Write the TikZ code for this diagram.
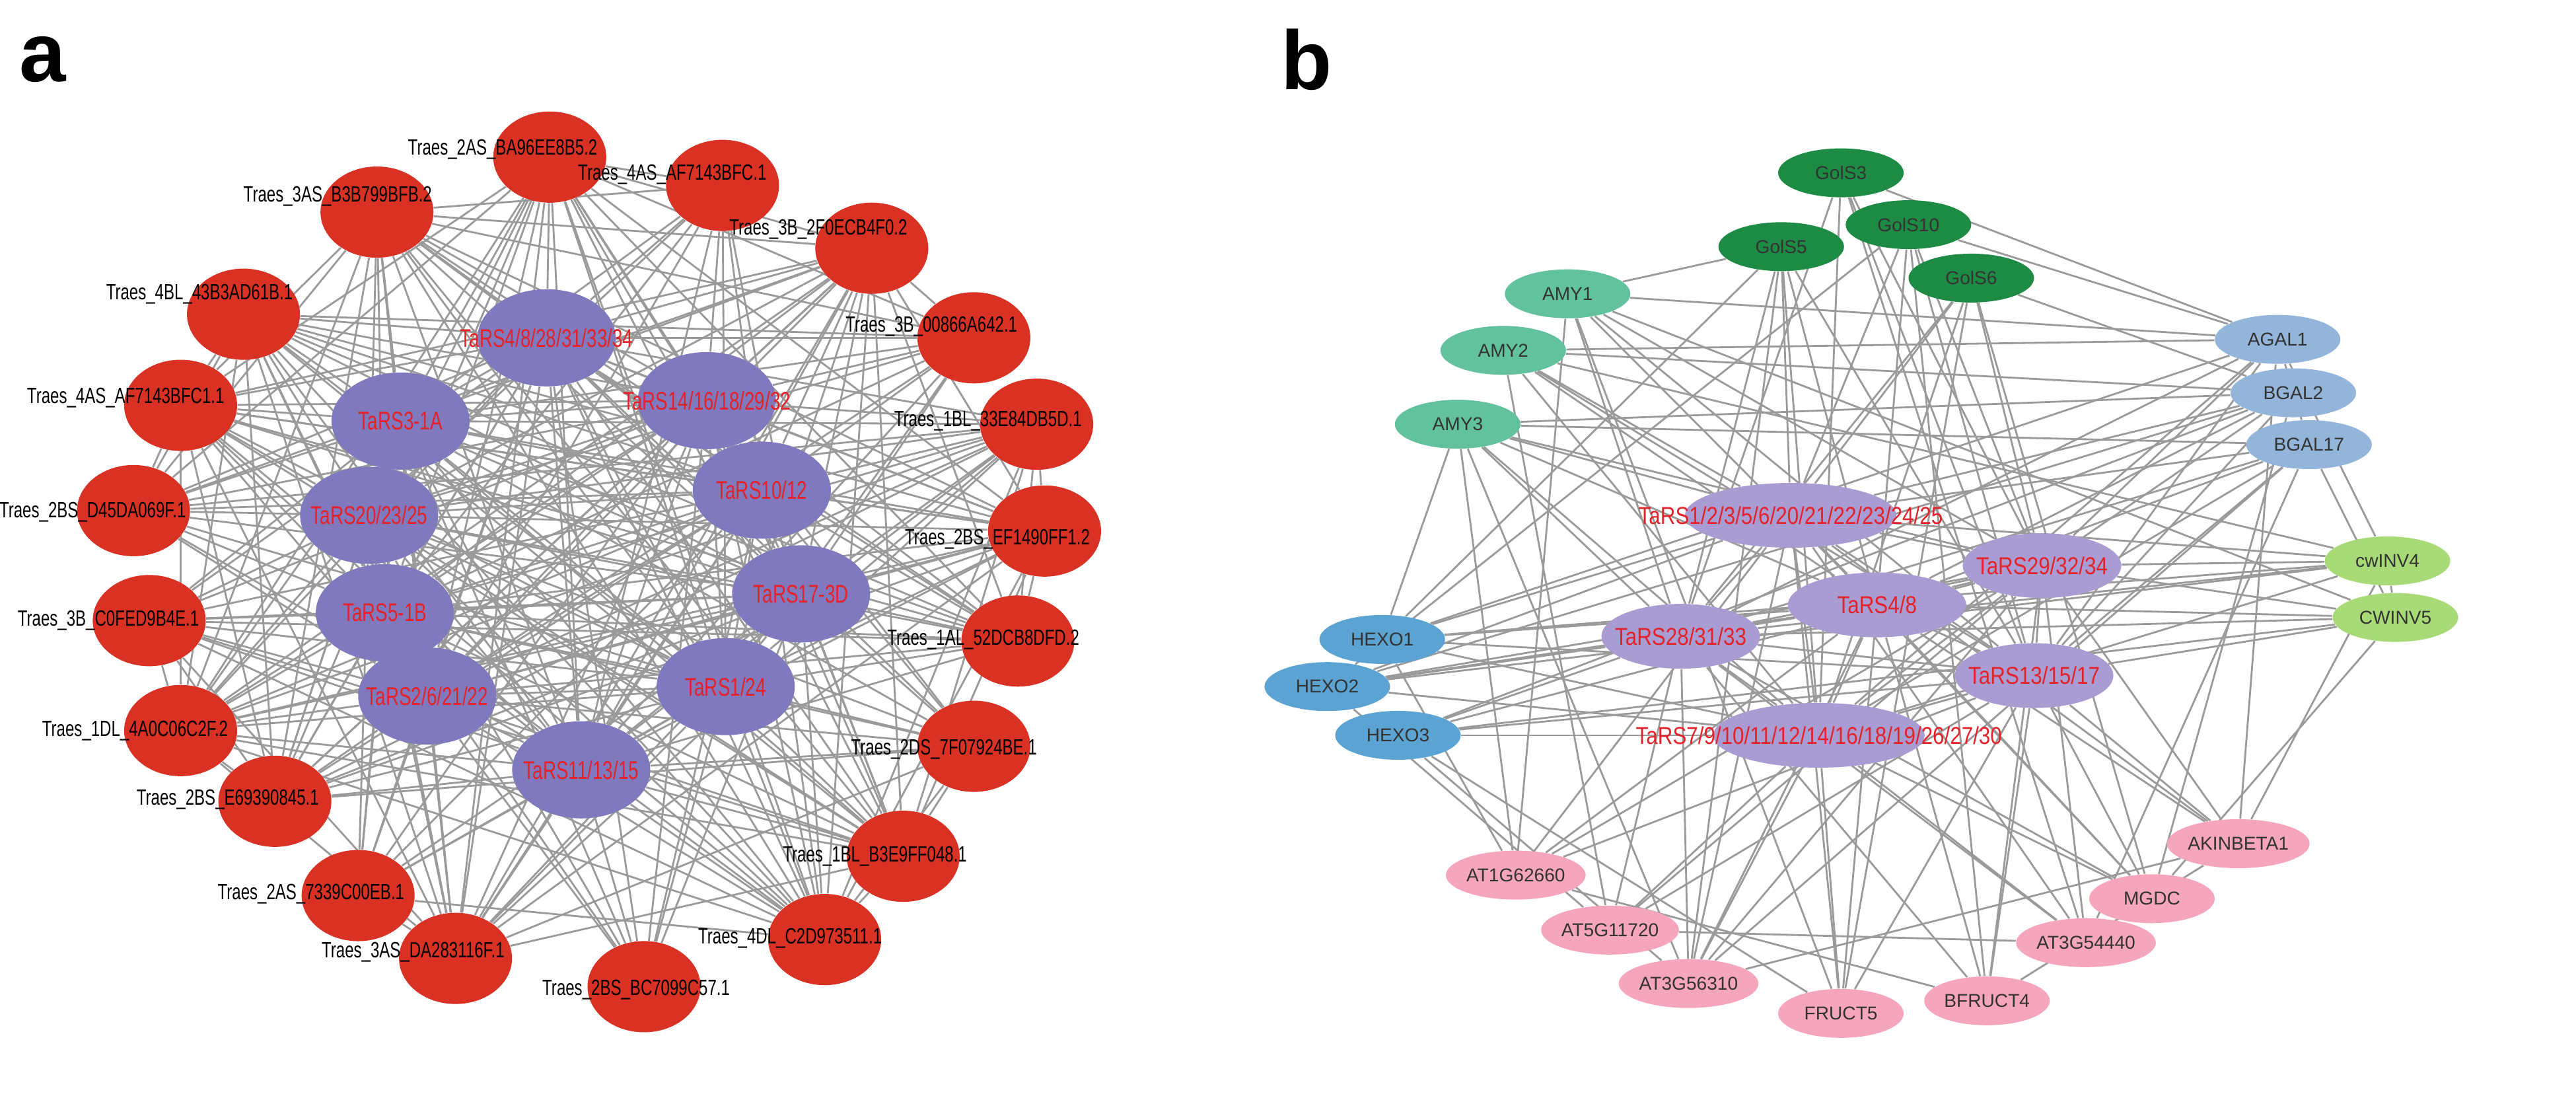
\documentclass[tikz,border=0pt]{standalone}
\usepackage{fontspec}
\setmainfont{Liberation Sans}
\newfontfamily\narrow{Liberation Sans}[FakeStretch=0.72]
\newfontfamily\narrowb{Liberation Sans}[FakeStretch=0.85]
\usetikzlibrary{backgrounds,shapes.geometric}
\definecolor{rnode}{HTML}{D93124}
\definecolor{pnode}{HTML}{8079BD}
\definecolor{pnodeb}{HTML}{A89CD2}
\definecolor{lred}{HTML}{E4222A}
\definecolor{egray}{HTML}{9A9A9A}
\definecolor{gols}{HTML}{1E8B45}
\definecolor{amy}{HTML}{62C29E}
\definecolor{gal}{HTML}{93B5DA}
\definecolor{inv}{HTML}{A8DB78}
\definecolor{hexo}{HTML}{5BA3D2}
\definecolor{pink}{HTML}{F5A5BC}
\begin{document}
\begin{tikzpicture}[x=0.02378cm,y=-0.02378cm,
 edge/.style={draw=egray,line width=0.8pt},
 rnd/.style={ellipse,fill=rnode,minimum width=1.71cm,minimum height=1.38cm,inner sep=0},
 pur/.style={ellipse,fill=pnode,minimum width=2.09cm,minimum height=1.47cm,inner sep=0},
 pl/.style={inner sep=0,font=\narrow\fontsize{11}{12}\selectfont,text=lred},
 rl/.style={font=\narrow\fontsize{9.5}{10}\selectfont,inner sep=0},
 bn/.style={ellipse,minimum width=1.9cm,minimum height=0.74cm,inner sep=0,font=\fontsize{8}{9}\selectfont,text=black!80},
 bp/.style={ellipse,fill=pnodeb,minimum height=0.98cm,inner sep=0},
 bl/.style={inner sep=0,font=\narrowb\fontsize{10.5}{11}\selectfont,text=lred},
 lab/.style={font=\bfseries\fontsize{36}{40}\selectfont,inner sep=0}]
\useasboundingbox (0,0) rectangle (1640,701.4);
\node[lab] (la) at (27,38) {a};
\node[lab] (lb) at (832,38) {b};
% panel a red nodes
\node[rnd] (r1) at (350,100) {};
\node[rnd] (r2) at (240,135) {};
\node[rnd] (r3) at (460,118) {};
\node[rnd] (r4) at (555,158) {};
\node[rnd] (r5) at (155,200) {};
\node[rnd] (r6) at (620,215) {};
\node[rnd] (r7) at (115,258) {};
\node[rnd] (r8) at (660,270) {};
\node[rnd] (r9) at (85,325) {};
\node[rnd] (r10) at (665,338) {};
\node[rnd] (r11) at (95,395) {};
\node[rnd] (r12) at (648,408) {};
\node[rnd] (r13) at (115,465) {};
\node[rnd] (r14) at (620,475) {};
\node[rnd] (r15) at (175,510) {};
\node[rnd] (r16) at (575,545) {};
\node[rnd] (r17) at (228,570) {};
\node[rnd] (r18) at (525,598) {};
\node[rnd] (r19) at (290,610) {};
\node[rnd] (r20) at (410,628) {};
% panel a purple
\node[pur] (p1) at (348,215) {};
\node[pur] (p2) at (255,268) {};
\node[pur] (p3) at (450,255) {};
\node[pur] (p4) at (235,328) {};
\node[pur] (p5) at (485,312) {};
\node[pur] (p6) at (245,390) {};
\node[pur] (p7) at (510,378) {};
\node[pur] (p8) at (272,443) {};
\node[pur] (p9) at (462,437) {};
\node[pur] (p10) at (370,490) {};
\node[pl] (pl1) at (p1) {TaRS4/8/28/31/33/34};
\node[pl] (pl2) at (p2) {TaRS3-1A};
\node[pl] (pl3) at (p3) {TaRS14/16/18/29/32};
\node[pl] (pl4) at (p4) {TaRS20/23/25};
\node[pl] (pl5) at (p5) {TaRS10/12};
\node[pl] (pl6) at (p6) {TaRS5-1B};
\node[pl] (pl7) at (p7) {TaRS17-3D};
\node[pl] (pl8) at (p8) {TaRS2/6/21/22};
\node[pl] (pl9) at (p9) {TaRS1/24};
\node[pl] (pl10) at (p10) {TaRS11/13/15};
% labels a
\node[rl] (t1) at (320,95) {Traes\_2AS\_BA96EE8B5.2};
\node[rl] (t2) at (215,125) {Traes\_3AS\_B3B799BFB.2};
\node[rl] (t3) at (428,111) {Traes\_4AS\_AF7143BFC.1};
\node[rl] (t4) at (521,146) {Traes\_3B\_2F0ECB4F0.2};
\node[rl] (t5) at (127,187) {Traes\_4BL\_43B3AD61B.1};
\node[rl] (t6) at (593,208) {Traes\_3B\_00866A642.1};
\node[rl] (t7) at (80,253) {Traes\_4AS\_AF7143BFC1.1};
\node[rl] (t8) at (629,268) {Traes\_1BL\_33E84DB5D.1};
\node[rl] (t9) at (59,326) {Traes\_2BS\_D45DA069F.1};
\node[rl] (t10) at (635,343) {Traes\_2BS\_EF1490FF1.2};
\node[rl] (t11) at (69,395) {Traes\_3B\_C0FED9B4E.1};
\node[rl] (t12) at (626,407) {Traes\_1AL\_52DCB8DFD.2};
\node[rl] (t13) at (86,465) {Traes\_1DL\_4A0C06C2F.2};
\node[rl] (t14) at (601,477) {Traes\_2DS\_7F07924BE.1};
\node[rl] (t15) at (145,509) {Traes\_2BS\_E69390845.1};
\node[rl] (t16) at (557,545) {Traes\_1BL\_B3E9FF048.1};
\node[rl] (t17) at (198,569) {Traes\_2AS\_7339C00EB.1};
\node[rl] (t18) at (503,597) {Traes\_4DL\_C2D973511.1};
\node[rl] (t19) at (263,606) {Traes\_3AS\_DA283116F.1};
\node[rl] (t20) at (405,630) {Traes\_2BS\_BC7099C57.1};
% panel b
\node[bn,fill=gols] (g1) at (1172,110) {GolS3};
\node[bn,fill=gols] (g2) at (1215,143) {GolS10};
\node[bn,fill=gols] (g3) at (1134,157) {GolS5};
\node[bn,fill=gols] (g4) at (1255,177) {GolS6};
\node[bn,fill=amy] (m1) at (998,187) {AMY1};
\node[bn,fill=amy] (m2) at (957,223) {AMY2};
\node[bn,fill=amy] (m3) at (928,270) {AMY3};
\node[bn,fill=gal] (a1) at (1450,216) {AGAL1};
\node[bn,fill=gal] (a2) at (1460,250) {BGAL2};
\node[bn,fill=gal] (a3) at (1470,283) {BGAL17};
\node[bn,fill=inv] (c1) at (1520,357) {cwINV4};
\node[bn,fill=inv] (c2) at (1525,393) {CWINV5};
\node[bn,fill=hexo] (h1) at (880,407) {HEXO1};
\node[bn,fill=hexo] (h2) at (845,437) {HEXO2};
\node[bn,fill=hexo] (h3) at (890,468) {HEXO3};
\node[bn,fill=pink] (k1) at (1425,537) {AKINBETA1};
\node[bn,fill=pink] (k2) at (1370,572) {MGDC};
\node[bn,fill=pink] (k3) at (1328,600) {AT3G54440};
\node[bn,fill=pink] (k4) at (1265,637) {BFRUCT4};
\node[bn,fill=pink] (k5) at (1172,645) {FRUCT5};
\node[bn,fill=pink] (k6) at (1075,626) {AT3G56310};
\node[bn,fill=pink] (k7) at (1025,592) {AT5G11720};
\node[bn,fill=pink] (k8) at (965,557) {AT1G62660};
\node[bp,minimum width=3.2cm] (q1) at (1140,328) {};
\node[bp,minimum width=2.4cm] (q2) at (1300,360) {};
\node[bp,minimum width=2.7cm] (q3) at (1195,385) {};
\node[bp,minimum width=2.4cm] (q4) at (1070,405) {};
\node[bp,minimum width=2.4cm] (q5) at (1295,430) {};
\node[bp,minimum width=3.2cm] (q6) at (1158,468) {};
\node[bl] (ql1) at (q1) {TaRS1/2/3/5/6/20/21/22/23/24/25};
\node[bl] (ql2) at (q2) {TaRS29/32/34};
\node[bl] (ql3) at (q3) {TaRS4/8};
\node[bl] (ql4) at (q4) {TaRS28/31/33};
\node[bl] (ql5) at (q5) {TaRS13/15/17};
\node[bl] (ql6) at (q6) {TaRS7/9/10/11/12/14/16/18/19/26/27/30};
\begin{scope}[on background layer]
\foreach \i in {1,...,20}{\foreach \j in {1,...,10}{\draw[edge] (r\i) -- (p\j);}}
\foreach \i in {1,...,9}{\pgfmathtruncatemacro\s{\i+1}\foreach \j in {\s,...,10}{\draw[edge] (p\i) -- (p\j);}}
\foreach \i in {1,...,19}{\pgfmathtruncatemacro\s{\i+1}\foreach \j in {\s,...,20}{
 \pgfmathtruncatemacro\f{mod(\i*\j+\i+3*\j,3)}\ifnum\f>0 \draw[edge] (r\i) -- (r\j);\fi}}
\foreach \n [count=\k] in {g1,g2,g3,g4,m1,m2,m3,a1,a2,a3,c1,c2,h1,h2,h3,k1,k2,k3,k4,k5,k6,k7,k8}{
 \foreach \t in {1,...,6}{\pgfmathtruncatemacro\f{mod(\k*5+\t*3,7)}\ifnum\f>1 \draw[edge] (\n) -- (q\t);\fi}}
\foreach \i in {1,...,5}{\pgfmathtruncatemacro\s{\i+1}\foreach \j in {\s,...,6}{\draw[edge] (q\i) -- (q\j);}}
\foreach \u/\v in {m1/a1,m2/a1,m2/a2,m3/a2,m3/a3,m1/k8,m2/k7,m3/k6,m1/k5,m3/k8,h1/a1,h2/a2,h1/c1,h3/c2,h1/k8,h2/k7,h3/k6,h3/k5,g1/a1,g2/a1,g3/m1,g4/a2,g2/k4,g3/k6,g1/k3,g4/k2,a1/k1,a2/k2,a3/k3,a1/c1,a3/c2,c1/k1,c2/k2,c1/h2,a2/h3,m2/c1,m1/c2,g3/h1,g2/h2,k8/k4,k7/k3,k6/k1,h1/m3,a1/a3,c1/c2,k1/k4,g4/k5,a3/k6}{\draw[edge] (\u) -- (\v);}
\end{scope}
\end{tikzpicture}
\end{document}
